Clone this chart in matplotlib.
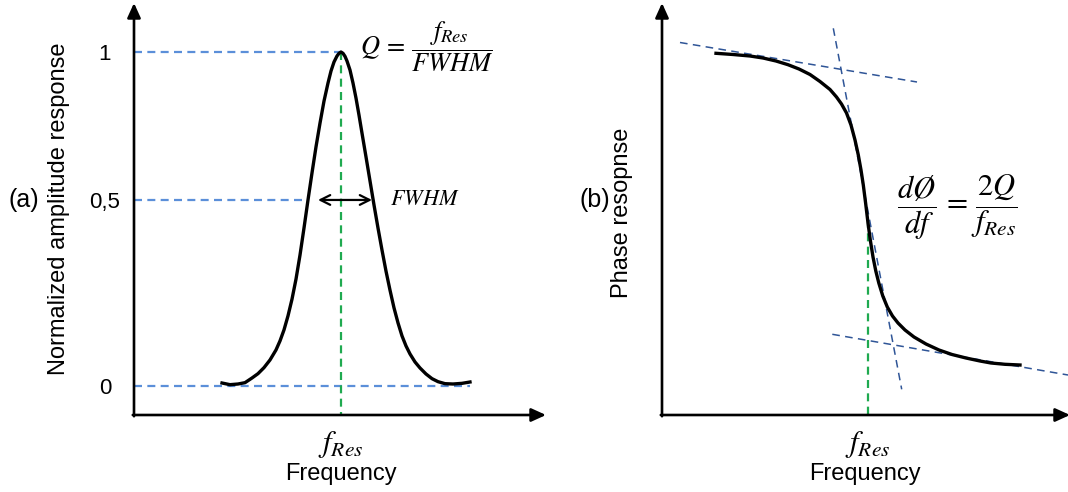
import matplotlib
matplotlib.use("Agg")
import matplotlib.pyplot as plt
import numpy as np

plt.rcParams['font.family'] = ['Liberation Sans', 'DejaVu Sans']
plt.rcParams['mathtext.fontset'] = 'stix'

# ---- (a) amplitude response ----
amp_freq = [88, 96, 104, 111, 118, 124, 130, 136, 142, 146, 150, 154, 158, 162,
            166, 170, 174, 178, 182, 186, 190, 194, 197, 200, 203, 205, 207,
            209, 211, 213, 216, 219, 222, 225, 228, 232, 236, 240, 244, 248, 252,
            256, 260, 264, 268, 272, 276, 281, 286, 292, 298, 304, 311, 319, 328, 336]
amp_val = [0.009, 0.004, 0.006, 0.010, 0.024, 0.037, 0.055, 0.078, 0.108, 0.135,
           0.168, 0.210, 0.260, 0.320, 0.392, 0.473, 0.557, 0.638, 0.716, 0.787,
           0.853, 0.907, 0.943, 0.970, 0.988, 0.996, 1.0,
           0.996, 0.987, 0.973, 0.946, 0.907, 0.862, 0.811, 0.757, 0.686, 0.614,
           0.542, 0.473, 0.407, 0.344, 0.287, 0.234, 0.189, 0.150, 0.120, 0.096,
           0.072, 0.054, 0.036, 0.022, 0.013, 0.007, 0.006, 0.008, 0.012]
amp_ticks = [0, 0.557, 1]
amp_tick_labels = ['0', '0,5', '1']
f_res_a = 207
half_left, half_right = 174, 239     # where the curve crosses the half level
fwhm_arrow = (184, 238)
zero_line_end = 336

# ---- (b) phase response ----
ph_freq = [54, 71, 88, 101, 114, 126, 137, 148, 158, 168, 174.5, 179.5, 184.5,
           189, 193, 196.3, 199, 201.3, 203.6, 206, 208.3, 211, 213.8, 216.8,
           220.8, 225.3, 230.5, 236, 243, 252, 264, 277, 290, 304, 318, 329, 343, 358]
ph_val = [361.7, 360.5, 359, 357, 354, 350.3, 346, 340.5, 333.5, 325.5, 318, 311,
          302, 290, 275, 260, 245, 230, 212, 192, 175, 158, 144, 132, 119, 108,
          99, 92, 85, 78, 71, 65, 60.5, 57, 54, 52, 50.7, 50]
tan_top = ([18, 255], [372.5, 333])
tan_mid = ([171.3, 239.7], [386.7, 25.7])
tan_low = ([170.3, 406], [80.7, 40])
f_res_b = 206
green_top_b = 195

W, H = 1068, 492
fig = plt.figure(figsize=(W / 100, H / 100), dpi=100)
ax1 = fig.add_axes([134 / W, 77 / H, 412 / W, 412 / H])
ax2 = fig.add_axes([662 / W, 77 / H, 408 / W, 412 / H])

light_blue = '#5B8FD9'
dark_blue = '#2F5597'
green = '#1FAA50'

for ax in (ax1, ax2):
    for s in ax.spines.values():
        s.set_visible(False)
    arrow = dict(arrowstyle='-|>,head_length=0.55,head_width=0.25', color='black',
                 lw=1.9, mutation_scale=16, shrinkA=0, shrinkB=0)
    ax.annotate('', xy=(0, 1.0), xytext=(0, -0.003), xycoords='axes fraction',
                arrowprops=arrow, annotation_clip=False)
    ax.annotate('', xy=(1.0, 0), xytext=(-0.003, 0), xycoords='axes fraction',
                arrowprops=arrow, annotation_clip=False)
    ax.tick_params(length=0)

# panel (a)
ax1.set_xlim(0, 412)
ax1.set_ylim(-0.0868, 1.1467)
dash = dict(lw=1.6, dashes=(3.6, 2.4))
ax1.plot([0, f_res_a], [1, 1], color=light_blue, **dash)
ax1.plot([0, half_left], [amp_ticks[1]] * 2, color=light_blue, **dash)
ax1.plot([0, zero_line_end], [0, 0], color=light_blue, **dash)
ax1.plot([f_res_a, f_res_a], [1, -0.0868], color=green, **dash)
ax1.plot(amp_freq, amp_val, color='black', lw=2.4, solid_joinstyle='round')
ax1.annotate('', xy=(fwhm_arrow[0], amp_ticks[1]), xytext=(fwhm_arrow[1], amp_ticks[1]),
             arrowprops=dict(arrowstyle='<->,head_length=0.5,head_width=0.25',
                             color='black', lw=1.6, mutation_scale=14,
                             shrinkA=0, shrinkB=0))
ax1.text(256, amp_ticks[1], r'$FWHM$', fontsize=16, ha='left', va='center')
ax1.text(226, 1.015, r'$Q\,=\,\dfrac{f_{Res}}{FWHM}$', fontsize=19,
         ha='left', va='center')
ax1.set_yticks(amp_ticks, amp_tick_labels, fontsize=16)
for lab in ax1.get_yticklabels():
    lab.set_ha('center')
ax1.tick_params(axis='y', pad=21)
ax1.set_xticks([f_res_a], [r'$f_{Res}$'], fontsize=22)
ax1.tick_params(axis='x', pad=10)
ax1.set_xlabel('Frequency', fontsize=17)
ax1.xaxis.set_label_coords(0.502, -0.117)
ax1.set_ylabel('Normalized amplitude response', fontsize=17)
ax1.yaxis.set_label_coords(-0.155, 0.5)

# panel (b)
ax2.set_xlim(0, 408)
ax2.set_ylim(0, 412)
tdash = dict(color=dark_blue, lw=1.1, dashes=(5, 3.5))
ax2.plot(*tan_top, **tdash)
ax2.plot(*tan_mid, **tdash)
ax2.plot(*tan_low, **tdash)
ax2.plot([f_res_b, f_res_b], [green_top_b, 0], color=green, **dash)
ax2.plot(ph_freq, ph_val, color='black', lw=2.4, solid_joinstyle='round')
ax2.text(235, 208, r'$\dfrac{d\O}{df}\,=\,\dfrac{2Q}{f_{Res}}$', fontsize=22,
         ha='left', va='center')
ax2.set_yticks([])
ax2.set_xticks([f_res_b], [r'$f_{Res}$'], fontsize=22)
ax2.tick_params(axis='x', pad=10)
ax2.set_xlabel('Frequency', fontsize=17)
ax2.xaxis.set_label_coords(0.4975, -0.117)
ax2.set_ylabel('Phase resopnse', fontsize=17)
ax2.yaxis.set_label_coords(-0.071, 0.49)

fig.text(24 / W, 1 - 200 / H, '(a)', fontsize=18, ha='center', va='center')
fig.text(595 / W, 1 - 200 / H, '(b)', fontsize=18, ha='center', va='center')

fig.savefig('out.png', dpi=100)
